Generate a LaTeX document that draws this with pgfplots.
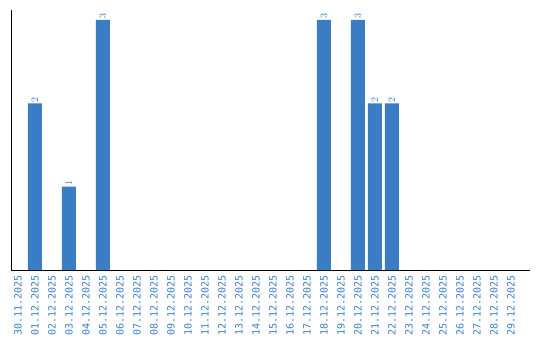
\documentclass[border=0pt]{standalone}
\usepackage{pgfplots}
\pgfplotsset{compat=1.18}
\usepackage{fontspec}
\setmainfont{Liberation Sans}
\newfontfamily\monofont{DejaVu Sans Mono}
\definecolor{barblue}{HTML}{3A7DC4}
\definecolor{txtblue}{HTML}{3A7FC8}
\begin{document}
\begin{tikzpicture}[x=1bp,y=1bp]
\begin{axis}[
  scale only axis,
  width=519bp, height=260bp,
  xmin=-0.41, xmax=30.12,
  ymin=0, ymax=3.12,
  axis x line=bottom, axis y line=left,
  axis line style={-, black, line width=0.8pt},
  ytick=\empty,
  xtick={0,...,29},
  xticklabels={30.11.2025,01.12.2025,02.12.2025,03.12.2025,04.12.2025,05.12.2025,06.12.2025,07.12.2025,08.12.2025,09.12.2025,10.12.2025,11.12.2025,12.12.2025,13.12.2025,14.12.2025,15.12.2025,16.12.2025,17.12.2025,18.12.2025,19.12.2025,20.12.2025,21.12.2025,22.12.2025,23.12.2025,24.12.2025,25.12.2025,26.12.2025,27.12.2025,28.12.2025,29.12.2025},
  major tick length=0pt,
  xticklabel style={rotate=90, anchor=east, font=\monofont\fontsize{10bp}{12bp}\selectfont, text=txtblue, inner sep=0pt},
  xticklabel shift=5bp,
  clip=false,
]
\addplot[ybar, bar width=14bp, fill=barblue, draw=none,
  nodes near coords,
  nodes near coords style={rotate=90, anchor=west, font=\monofont\fontsize{10bp}{12bp}\selectfont, text=txtblue, inner sep=1bp}]
  coordinates {(1,2) (3,1) (5,3) (18,3) (20,3) (21,2) (22,2)};
\end{axis}
\path (current axis.south west) ++(-11bp,-70bp) coordinate (bl);
\path (current axis.north east) ++(10bp,10bp) coordinate (tr);
\useasboundingbox (bl) rectangle (tr);
\end{tikzpicture}
\end{document}
